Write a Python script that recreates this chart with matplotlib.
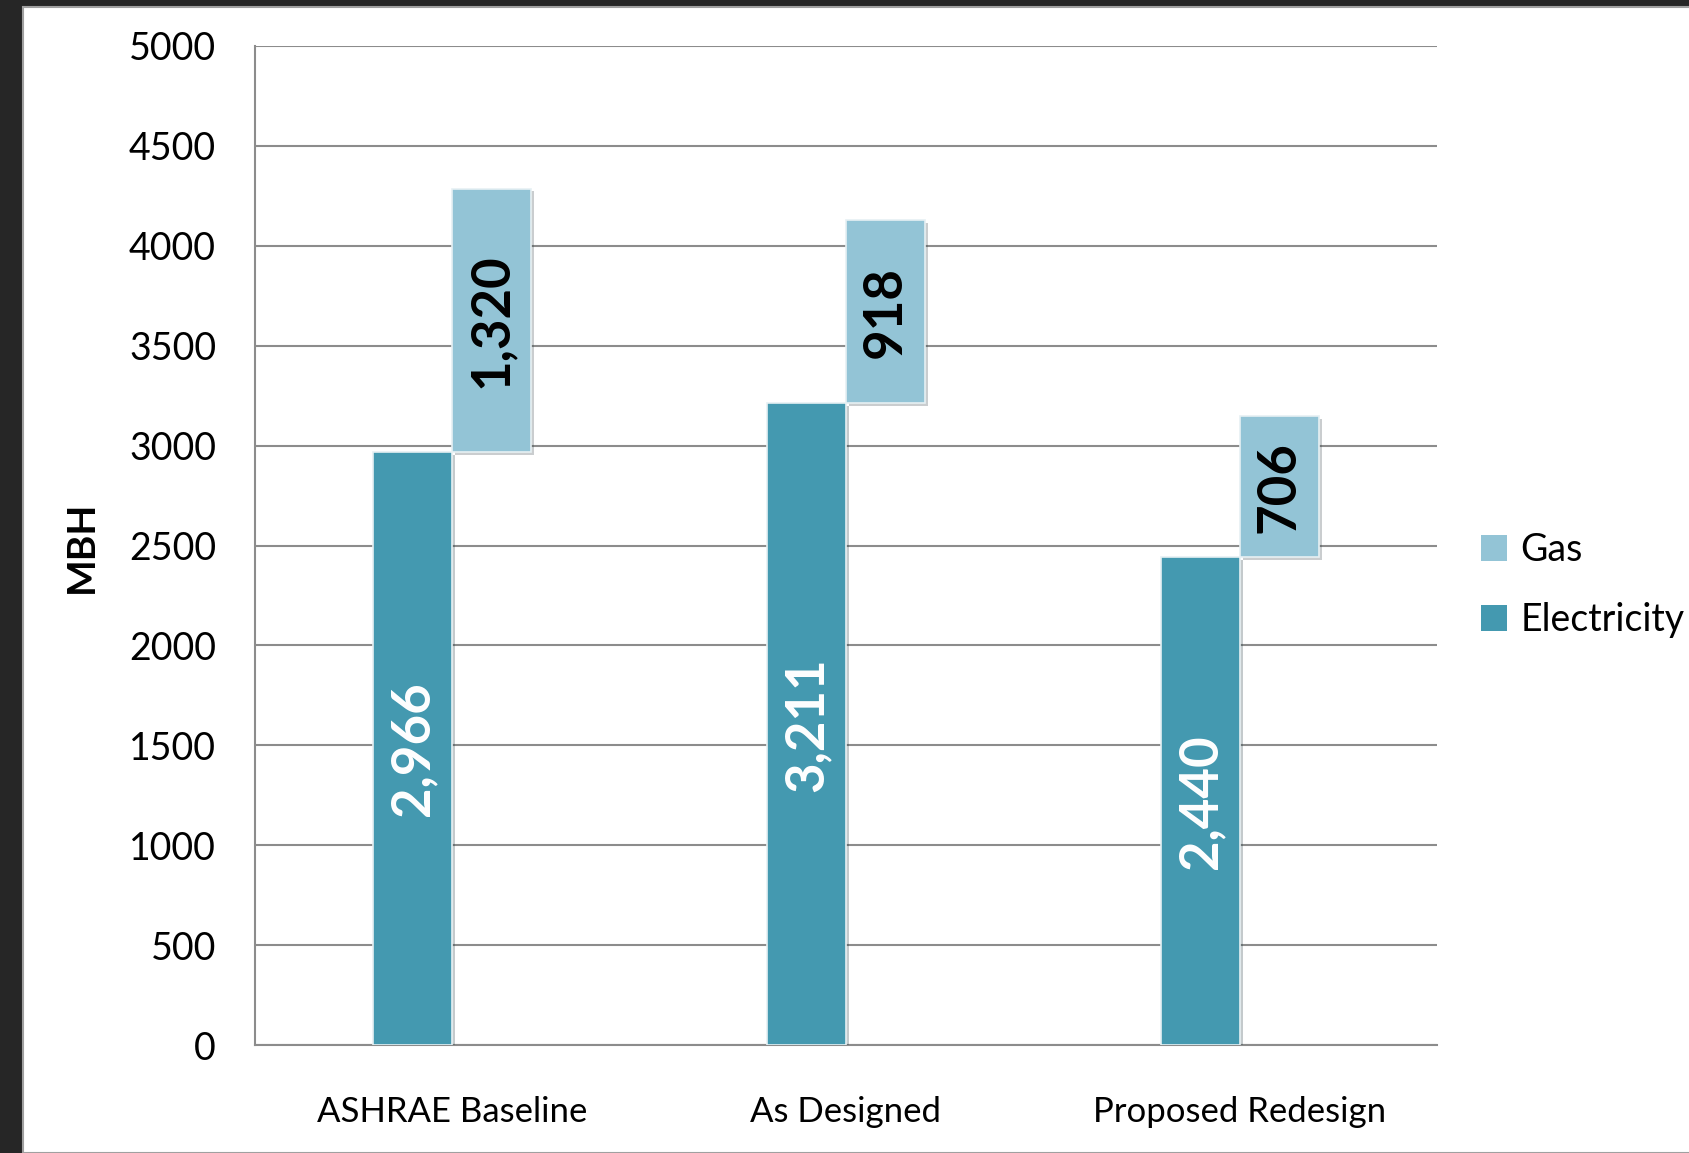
import numpy as np
import matplotlib
matplotlib.use("Agg")
import matplotlib.pyplot as plt
import matplotlib.patheffects as pe
from matplotlib.patches import Rectangle

categories = ["ASHRAE Baseline", "As Designed", "Proposed Redesign"]
electricity = [2966, 3211, 2440]
gas = [1320, 918, 706]
elec_labels = ["2,966", "3,211", "2,440"]
gas_labels = ["1,320", "918", "706"]

elec_color = "#4499b0"
gas_color = "#93c4d6"
font = ["Lato", "DejaVu Sans"]
plt.rcParams["font.family"] = font

fig = plt.figure(figsize=(16.89, 11.53), dpi=100, facecolor="#262626")
# white page area inside the dark frame
fig.patches.append(Rectangle((23 / 1689, 0), 1, (1153 - 7) / 1153,
                             transform=fig.transFigure, facecolor="white",
                             edgecolor="#a0a0a0", linewidth=1.5, zorder=-5))

ax = fig.add_axes([255 / 1689, 1 - 1045 / 1153, (1437 - 255) / 1689, (1045 - 46) / 1153])
ax.set_facecolor("none")

x = np.arange(len(categories))
w = 0.2
shadow = [pe.SimplePatchShadow(offset=(2, -2), alpha=0.25), pe.Normal()]
b1 = ax.bar(x - w / 2, electricity, w, color=elec_color, edgecolor="#e6f0f3",
            linewidth=1.2, label="Electricity", zorder=3)
b2 = ax.bar(x + w / 2, gas, w, bottom=electricity, color=gas_color, edgecolor="#e6f0f3",
            linewidth=1.2, label="Gas", zorder=3)
for b in list(b1) + list(b2):
    b.set_path_effects(shadow)

for i in range(len(categories)):
    ax.text(x[i] - w / 2, electricity[i] / 2, elec_labels[i], rotation=90,
            ha="center", va="center", color="white", fontsize=38, fontweight="bold", zorder=4)
    ax.text(x[i] + w / 2, electricity[i] + gas[i] / 2, gas_labels[i], rotation=90,
            ha="center", va="center", color="black", fontsize=38, fontweight="bold", zorder=4)

ax.set_xlim(-0.5, 2.5)
ax.set_ylim(0, 5000)
ax.set_yticks(np.arange(0, 5001, 500))
ax.set_xticks(x)
ax.set_xticklabels(categories)
ax.tick_params(axis="y", labelsize=27, length=0, pad=28)
ax.tick_params(axis="x", labelsize=25, length=0, pad=37)
ax.grid(axis="y", color="#8c8c8c", linewidth=1.5, zorder=0)
for s in ["top", "right"]:
    ax.spines[s].set_visible(False)
for s in ["left", "bottom"]:
    ax.spines[s].set_color("#8c8c8c")
    ax.spines[s].set_linewidth(1.5)

fig.text(81 / 1689, 1 - 547 / 1153, "MBH", rotation=90, ha="center", va="center",
         fontsize=28, fontweight="bold")

handles = [b2, b1]
leg = fig.legend(handles, ["Gas", "Electricity"], loc="center left",
                 bbox_to_anchor=(1447 / 1689, 1 - 585 / 1153), frameon=False,
                 fontsize=27, handlelength=0.7, handleheight=0.7, handletextpad=0.35,
                 labelspacing=0.9)
for h in leg.legend_handles:
    h.set_path_effects([])
    h.set_edgecolor("none")

fig.savefig("out.png", dpi=100, facecolor=fig.get_facecolor())
